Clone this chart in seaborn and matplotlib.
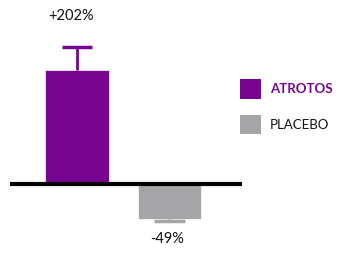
import matplotlib
matplotlib.use("Agg")
import matplotlib.pyplot as plt
import seaborn as sns
import pandas as pd
from matplotlib.patches import Patch

groups = ["ATROTOS", "PLACEBO"]
values = [202, -62]
err_up = [41, 0]
err_down = [0, 3.5]
labels = ["+202%", "-49%"]
colors = ["#76058f", "#a5a5a8"]

sns.set_theme(style="white")
plt.rcParams['font.family'] = ['Lato', 'DejaVu Sans']

df = pd.DataFrame({"group": groups, "value": values})

fig = plt.figure(figsize=(3.52, 2.56), dpi=100)
ax = fig.add_axes([10/352, 0, 232/352, 1])

sns.barplot(data=df, x="group", y="value", hue="group", palette=colors,
            width=0.69, ax=ax, legend=False, saturation=1,
            edgecolor="white", linewidth=0.5)

cap_half = 0.165
for i in range(len(groups)):
    if err_up[i] > 0:
        end = values[i] + err_up[i]
    else:
        end = values[i] - err_down[i]
    ax.vlines(i, values[i], end, colors=colors[i], lw=2, zorder=3)
    ax.hlines(end, i - cap_half, i + cap_half, colors=colors[i], lw=2.5, zorder=3)

ax.axhline(0, color="black", lw=3, zorder=4)

ax.text(0 - 0.06, 297, labels[0], ha="center", va="center", fontsize=10.5, color="#111111")
ax.text(1 - 0.03, -97, labels[1], ha="center", va="center", fontsize=10.5, color="#111111")

ax.set_xlim(-0.724, 1.784)
ax.set_ylim(-127.6, 326.0)
ax.axis("off")

handles = [Patch(facecolor=c, edgecolor="none") for c in colors]
leg = fig.legend(handles, groups, loc="upper left", bbox_to_anchor=(235/352, 1 - 74/256),
                 frameon=False, fontsize=9.5, handlelength=1.6, handleheight=1.9,
                 labelspacing=1.2, handletextpad=0.65, borderaxespad=0)
texts = leg.get_texts()
texts[0].set_color("#76058f")
texts[0].set_fontweight("bold")
texts[1].set_color("#111111")

fig.savefig("out.png", dpi=100)
